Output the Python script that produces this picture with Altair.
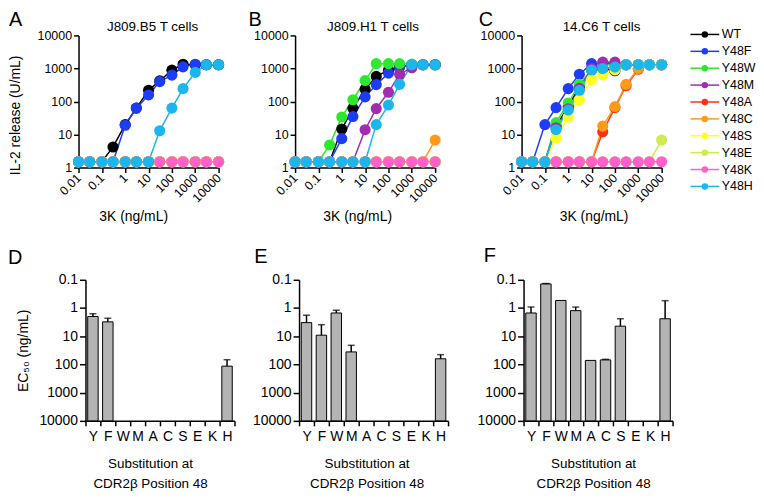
import altair as alt
import pandas as pd

FONT = "Liberation Sans"

DOSES = [0.01, 0.03, 0.1, 0.3, 1, 3, 10, 30, 100, 300, 1000, 3000, 10000]
SERIES = ["WT", "Y48F", "Y48W", "Y48M", "Y48A", "Y48C", "Y48S", "Y48E", "Y48K", "Y48H"]
COLORS = ["#000000", "#1c3cf5", "#2ee82e", "#a02cb0", "#ff3311", "#ff9a18",
          "#ffff22", "#ccec50", "#ff60cc", "#1ab6ec"]

# IL-2 release (U/mL) per dose, panel A (J809.B5)
A_B5 = {
    "WT":   [1.5, 1.5, 1.5, 4.2, 20, 63, 220, 420, 890, 1340, 1300, 1300, 1300],
    "Y48F": [1.5, 1.5, 1.5, 1.5, 19, 63, 158, 400, 630, 1120, 1340, 1300, 1300],
    "Y48W": [1.5, 1.5, 1.5, 1.5, 1.5, 1.5, 1.5, 1.5, 1.5, 1.5, 1.5, 1.5, 1.5],
    "Y48M": [1.5, 1.5, 1.5, 1.5, 1.5, 1.5, 1.5, 1.5, 1.5, 1.5, 1.5, 1.5, 1.5],
    "Y48A": [1.5, 1.5, 1.5, 1.5, 1.5, 1.5, 1.5, 1.5, 1.5, 1.5, 1.5, 1.5, 1.5],
    "Y48C": [1.5, 1.5, 1.5, 1.5, 1.5, 1.5, 1.5, 1.5, 1.5, 1.5, 1.5, 1.5, 1.5],
    "Y48S": [1.5, 1.5, 1.5, 1.5, 1.5, 1.5, 1.5, 1.5, 1.5, 1.5, 1.5, 1.5, 1.5],
    "Y48E": [1.5, 1.5, 1.5, 1.5, 1.5, 1.5, 1.5, 1.5, 1.5, 1.5, 1.5, 1.5, 1.5],
    "Y48K": [1.5, 1.5, 1.5, 1.5, 1.5, 1.5, 1.5, 1.5, 1.5, 1.5, 1.5, 1.5, 1.5],
    "Y48H": [1.5, 1.5, 1.5, 1.5, 1.5, 1.5, 1.5, 13, 63, 245, 760, 1300, 1300],
}
# panel B (J809.H1)
B_H1 = {
    "WT":   [1.5, 1.5, 1.5, 1.5, 14.6, 62, 235, 575, 890, 1150, 1300, 1300, 1300],
    "Y48F": [1.5, 1.5, 1.5, 1.5, 7.5, 35, 138, 323, 720, 1100, 1300, 1300, 1300],
    "Y48W": [1.5, 1.5, 1.5, 4.8, 34, 113, 430, 1400, 1400, 1400, 1350, 1300, 1300],
    "Y48M": [1.5, 1.5, 1.5, 1.5, 1.5, 1.5, 14, 61, 190, 670, 1050, 1300, 1300],
    "Y48A": [1.5, 1.5, 1.5, 1.5, 1.5, 1.5, 1.5, 1.5, 1.5, 1.5, 1.5, 1.5, 1.5],
    "Y48C": [1.5, 1.5, 1.5, 1.5, 1.5, 1.5, 1.5, 1.5, 1.5, 1.5, 1.5, 1.5, 6.8],
    "Y48S": [1.5, 1.5, 1.5, 1.5, 1.5, 1.5, 1.5, 1.5, 1.5, 1.5, 1.5, 1.5, 1.5],
    "Y48E": [1.5, 1.5, 1.5, 1.5, 1.5, 1.5, 1.5, 1.5, 1.5, 1.5, 1.5, 1.5, 1.5],
    "Y48K": [1.5, 1.5, 1.5, 1.5, 1.5, 1.5, 1.5, 1.5, 1.5, 1.5, 1.5, 1.5, 1.5],
    "Y48H": [1.5, 1.5, 1.5, 1.5, 1.5, 1.5, 1.5, 20, 78, 330, 1300, 1300, 1300],
}
# panel C (14.C6)
C_C6 = {
    "WT":   [1.5, 1.5, 1.5, 18, 70, 280, 900, 1000, 850, 1300, 1300, 1300, 1300],
    "Y48F": [1.5, 1.5, 20, 65, 245, 670, 1400, 1400, 1400, 1300, 1300, 1300, 1300],
    "Y48W": [1.5, 1.5, 1.5, 23, 90, 330, 900, 1300, 1300, 1300, 1300, 1300, 1300],
    "Y48M": [1.5, 1.5, 1.5, 16, 60, 250, 1000, 1550, 1550, 1300, 1300, 1300, 1300],
    "Y48A": [1.5, 1.5, 1.5, 1.5, 1.5, 1.5, 1.5, 12, 65, 300, 950, 1300, 1300],
    "Y48C": [1.5, 1.5, 1.5, 1.5, 1.5, 1.5, 1.5, 18, 70, 330, 1000, 1300, 1300],
    "Y48S": [1.5, 1.5, 1.5, 7.8, 34, 112, 460, 640, 900, 1300, 1300, 1300, 1300],
    "Y48E": [1.5, 1.5, 1.5, 1.5, 1.5, 1.5, 1.5, 1.5, 1.5, 1.5, 1.5, 1.5, 6.8],
    "Y48K": [1.5, 1.5, 1.5, 1.5, 1.5, 1.5, 1.5, 1.5, 1.5, 1.5, 1.5, 1.5, 1.5],
    "Y48H": [1.5, 1.5, 1.5, 14, 55, 218, 900, 1000, 1100, 1300, 1300, 1300, 1300],
}

CATS = ["Y", "F", "W", "M", "A", "C", "S", "E", "K", "H"]
D_EC50 = [2.0, 3.1, None, None, None, None, None, None, None, 115]
D_ERR = [1.6, 2.3, None, None, None, None, None, None, None, 68]
E_EC50 = [3.3, 9.2, 1.5, 36, None, None, None, None, None, 63]
E_ERR = [1.8, 3.9, 1.2, 21, None, None, None, None, None, 45]
F_EC50 = [1.5, 0.14, 0.54, 1.24, 72, 69, 4.4, None, None, 2.4]
F_ERR = [0.92, 0.135, None, 0.93, None, 66, 2.4, None, None, 0.55]

SC_COLOR = alt.Scale(domain=SERIES, range=COLORS)
TOP_H = 133


def text_layer(txt, size, x, y, align):
    return alt.Chart(pd.DataFrame({"t": [txt]})).mark_text(
        align=align, baseline="alphabetic", fontSize=size, font=FONT, x=x, y=y,
        color="black").encode(text="t:N")


def curve_panel(vals, title, letter, lx, ly, tdx, xtx, ytitle):
    rows = []
    for i, s in enumerate(SERIES):
        for d, v in zip(DOSES, vals[s]):
            rows.append({"dose": d, "val": v, "series": s, "idx": i})
    df = pd.DataFrame(rows)
    x = alt.X("dose:Q",
              scale=alt.Scale(type="log", domain=[0.01, 10000], nice=False),
              axis=alt.Axis(values=[0.01, 0.1, 1, 10, 100, 1000, 10000], format="~g",
                            labelAngle=315, labelAlign="right", labelBaseline="middle",
                            labelFontSize=12.5, labelPadding=3, labelFlush=False,
                            labelOverlap=False, tickSize=5,
                            title="3K (ng/mL)", titleFontSize=14, titleFontWeight="normal",
                            titleX=xtx, titleY=42, titleBaseline="top"))
    yax = dict(values=[1, 10, 100, 1000, 10000], format="~g",
               labelFontSize=12.5, labelPadding=2, labelOverlap=False,
               labelFlush=False, tickSize=5, title=ytitle)
    if ytitle:
        yax.update(titleFontSize=14, titleFontWeight="normal", titleX=-63, titleY=80,
                   titleBaseline="middle", titleAlign="center")
    y = alt.Y("val:Q", scale=alt.Scale(type="log", domain=[1, 10000], nice=False),
              axis=alt.Axis(**yax))
    color = alt.Color("series:N", scale=SC_COLOR, legend=None)
    line = alt.Chart(df).mark_line(strokeWidth=1.5).encode(x=x, y=y, color=color)
    pts = alt.Chart(df).mark_circle(size=125, opacity=1).encode(
        x=x, y=y, color=color, order=alt.Order("idx:Q"))
    lab = text_layer(letter, 20, lx, ly, "left")
    ttl = text_layer(title, 13.5, 70.5 + tdx, -4, "center")
    return alt.layer(line, pts, lab, ttl).properties(width=141, height=TOP_H)


def legend_panel():
    df = pd.DataFrame({"series": SERIES})
    y = alt.Y("series:N", sort=SERIES, axis=None,
              scale=alt.Scale(type="point", domain=SERIES, range=[-1, 152], padding=0))
    color = alt.Color("series:N", scale=SC_COLOR, legend=None)
    seg = alt.Chart(df).mark_rule(strokeWidth=1.5).encode(
        y=y, x=alt.value(0), x2=alt.value(29), color=color)
    dot = alt.Chart(df).mark_circle(size=42, opacity=1).encode(
        y=y, x=alt.value(14.5), color=color)
    txt = alt.Chart(df).mark_text(align="left", baseline="middle", fontSize=12.5,
                                  font=FONT, color="black").encode(
        y=y, x=alt.value(31.5), text="series:N")
    return alt.layer(seg, dot, txt).properties(width=60, height=156)


def bar_panel(ec, err, letter, lx, ly, xtx, ytitle, shift):
    df = pd.DataFrame({"cat": CATS, "ec50": ec, "err": err})
    width = 150 + shift
    sc_kw = dict(domain=CATS, paddingInner=0, paddingOuter=0)
    if shift:
        sc_kw["range"] = [shift, width]
    x = alt.X("cat:N", sort=CATS, scale=alt.Scale(**sc_kw),
              axis=alt.Axis(tickBand="extent", labelAngle=0, labelFontSize=14, labelPadding=4,
                            tickSize=5, title=["Substitution at", "CDR2β Position 48"],
                            titleFontSize=13.5, titleFontWeight="normal", titleLineHeight=20,
                            titleX=xtx, titleY=36, titleBaseline="top"))
    yscale = alt.Scale(type="log", domain=[0.1, 10000], reverse=True, nice=False)
    yaxis = alt.Axis(values=[0.1, 1, 10, 100, 1000, 10000], format="~g", labelFontSize=14,
                     labelPadding=2, tickSize=6, labelOverlap=False, labelFlush=False,
                     title=ytitle, titleFontSize=14, titleFontWeight="normal",
                     titlePadding=8, offset=-shift)
    base = alt.Chart(df)
    bars = base.mark_bar(width=alt.RelativeBandSize(0.7), fill="#b4b4b4", stroke="black",
                         strokeWidth=1).encode(
        x=x, y=alt.Y("ec50:Q", scale=yscale, axis=yaxis), y2=alt.datum(10000))
    errs = base.transform_filter("isValid(datum.err) && isValid(datum.ec50)")
    rule = errs.mark_rule(strokeWidth=1.5, color="black").encode(
        x=x, y=alt.Y("ec50:Q", scale=yscale, axis=yaxis), y2="err:Q")
    cap = errs.mark_tick(size=7, thickness=1.5, color="black").encode(
        x=x, y=alt.Y("err:Q", scale=yscale, axis=yaxis))
    lab = text_layer(letter, 20, lx, ly, "left")
    return alt.layer(bars, rule, cap, lab).properties(width=width, height=142)


pA = curve_panel(A_B5, "J809.B5 T cells", "A", -70, -9.5, 4, 55, "IL-2 release (U/mL)")
pB = curve_panel(B_H1, "J809.H1 T cells", "B", -47, -9.5, 8, 62.5, None)
pC = curve_panel(C_C6, "14.C6 T cells", "C", -43, -9.5, 10, 72.5, None)
pL = legend_panel()

pD = bar_panel(D_EC50, D_ERR, "D", -71, -15.5, 72, "EC₅₀ (ng/mL)", 7)
pE = bar_panel(E_EC50, E_ERR, "E", -45, -17, 68, None, 0)
pF = bar_panel(F_EC50, F_ERR, "F", -40, -18, 70, None, 0)

res = dict(color="independent", y="independent")
top = alt.hconcat(
    pA,
    alt.hconcat(pB, alt.hconcat(pC, pL, spacing=22).resolve_scale(**res),
                spacing=38).resolve_scale(**res),
    spacing=24).resolve_scale(**res)
bottom = alt.hconcat(pD, alt.hconcat(pE, pF, spacing=28), spacing=17)

chart = alt.vconcat(top, bottom, spacing=23).properties(
    padding={"left": 0, "top": 0, "right": 0, "bottom": 0}
).configure(font=FONT).configure_axis(
    domainColor="black", tickColor="black", labelColor="black", titleColor="black",
    domainWidth=1.5, tickWidth=1.5, grid=False, labelFont=FONT, titleFont=FONT
).configure_view(stroke=None)

chart.save("out.html", embed_options={"renderer": "svg", "actions": False})
